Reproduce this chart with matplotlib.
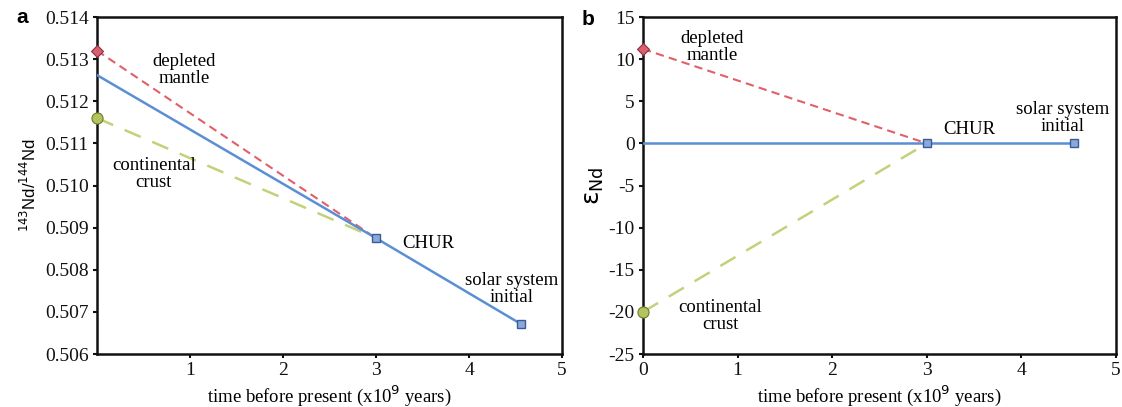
import matplotlib
matplotlib.use("Agg")
import matplotlib.pyplot as plt

# ---- data ----
time_dm = [0.0, 3.0]
nd_dm = [0.51320, 0.50875]
time_cc = [0.0, 3.0]
nd_cc = [0.51160, 0.50875]
time_chur = [0.0, 3.0, 4.56]
nd_chur = [0.51262, 0.50875, 0.50671]

eps_dm = [11.2, 0.0]
eps_cc = [-20.0, 0.0]
eps_chur = [0.0, 0.0, 0.0]

a_yticks = [0.506, 0.507, 0.508, 0.509, 0.510, 0.511, 0.512, 0.513, 0.514]
a_xticks = [1, 2, 3, 4, 5]
b_yticks = [-25, -20, -15, -10, -5, 0, 5, 10, 15]
b_xticks = [0, 1, 2, 3, 4, 5]

SERIF = ["Liberation Serif", "DejaVu Serif"]
SANS = ["Liberation Sans", "DejaVu Sans"]

RED = "#e0606a"
RED_FILL = "#d9606e"
RED_EDGE = "#8a3040"
GREEN = "#c2d27a"
GREEN_FILL = "#b4c45c"
GREEN_EDGE = "#6a7a30"
BLUE = "#5b8fd4"
BLUE_FILL = "#8aa8d8"
BLUE_EDGE = "#3a5a9a"

fig = plt.figure(figsize=(11.22, 4.07), dpi=100)
ax_a = fig.add_axes([0.0865, 0.1302, 0.4144, 0.828])
ax_b = fig.add_axes([0.5731, 0.1302, 0.4216, 0.828])

TICKFS = 14
TEXTFS = 13.5


def style(ax, xticks, yticks, ylim, yfmt):
    ax.set_xlim(0, 5)
    ax.set_ylim(*ylim)
    ax.set_xticks(xticks)
    ax.set_yticks(yticks)
    ax.set_xticklabels([str(t) for t in xticks], fontfamily=SERIF, fontsize=TICKFS)
    ax.set_yticklabels([yfmt(t) for t in yticks], fontfamily=SERIF, fontsize=TICKFS)
    for s in ax.spines.values():
        s.set_linewidth(1.8)
        s.set_color("#111111")
    ax.tick_params(direction="out", length=3, width=1.5, pad=3, colors="#111111")
    ax.set_xlabel("time before present (x10$^{9}$ years)", fontfamily=SERIF,
                  fontsize=TEXTFS, labelpad=3)


def draw(ax, t_dm, y_dm, t_cc, y_cc, t_ch, y_ch):
    ax.plot(t_dm, y_dm, color=RED, lw=1.5, dashes=(4, 2.5), zorder=3)
    ax.plot(t_cc, y_cc, color=GREEN, lw=1.8, dashes=(7, 5), zorder=3)
    ax.plot(t_ch, y_ch, color=BLUE, lw=1.8, zorder=4)
    ax.plot(t_ch[1:], y_ch[1:], ls="none", marker="s", ms=5.5, mfc=BLUE_FILL,
            mec=BLUE_EDGE, mew=1.0, zorder=5)
    ax.plot(t_dm[:1], y_dm[:1], ls="none", marker="D", ms=6.5, mfc=RED_FILL,
            mec=RED_EDGE, mew=0.8, zorder=6, clip_on=False)
    ax.plot(t_cc[:1], y_cc[:1], ls="none", marker="o", ms=8, mfc=GREEN_FILL,
            mec=GREEN_EDGE, mew=0.8, zorder=6, clip_on=False)


# ---- panel a ----
draw(ax_a, time_dm, nd_dm, time_cc, nd_cc, time_chur, nd_chur)
style(ax_a, a_xticks, a_yticks, (0.506, 0.514), lambda t: f"{t:.3f}")
ax_a.set_ylabel("$^{143}$Nd/$^{144}$Nd", fontfamily=SANS, fontsize=12, labelpad=4)
kw = dict(fontfamily=SERIF, fontsize=TEXTFS, ha="center", va="center", linespacing=1.0)
ax_a.text(0.935, 0.51274, "depleted\nmantle", **kw)
ax_a.text(0.61, 0.51027, "continental\ncrust", **kw)
ax_a.text(3.56, 0.50863, "CHUR", **kw)
ax_a.text(4.46, 0.50754, "solar system\ninitial", **kw)
fig.text(0.0196, 0.958, "a", fontfamily=SANS, fontsize=15, fontweight="bold",
         ha="center", va="center")

# ---- panel b ----
draw(ax_b, time_dm, eps_dm, time_cc, eps_cc, time_chur, eps_chur)
style(ax_b, b_xticks, b_yticks, (-25, 15), lambda t: f"{t:d}")
ax_b.set_ylabel(r"$\mathsf{\varepsilon}_{\mathsf{Nd}}$", fontsize=18, labelpad=2)
ax_b.text(0.73, 11.4, "depleted\nmantle", **kw)
ax_b.text(0.82, -20.5, "continental\ncrust", **kw)
ax_b.text(3.45, 1.7, "CHUR", **kw)
ax_b.text(4.43, 3.0, "solar system\ninitial", **kw)
fig.text(0.524, 0.951, "b", fontfamily=SANS, fontsize=15, fontweight="bold",
         ha="center", va="center")

fig.savefig("out.png", dpi=100)
